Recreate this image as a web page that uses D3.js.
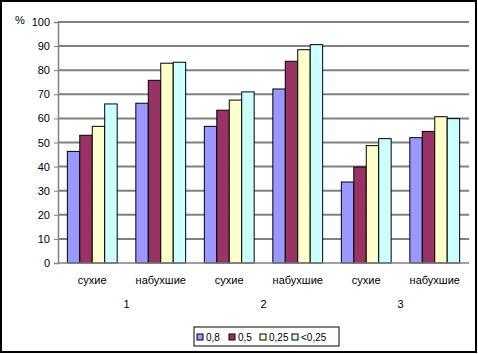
<!DOCTYPE html>
<html>
<head>
<meta charset="utf-8">
<script src="https://cdn.jsdelivr.net/npm/d3@7"></script>
<style>
  body { margin: 0; background: #fff; }
  text { font-family: "Liberation Sans", Arial, sans-serif; font-size: 11px; fill: #000; }
</style>
</head>
<body>
<svg id="chart" width="478" height="354"></svg>
<script>
const categories = ["сухие", "набухшие", "сухие", "набухшие", "сухие", "набухшие"];
const groups = ["1", "2", "3"];
const seriesNames = ["0,8", "0,5", "0,25", "<0,25"];
const colors = ["#9999ff", "#993366", "#ffffcc", "#ccffff"];

// values per series, one per category
const s08 = [46.3, 66.3, 56.7, 72.2, 33.6, 52.0];
const s05 = [53.0, 75.8, 63.4, 83.7, 39.8, 54.6];
const s025 = [56.7, 82.9, 67.6, 88.5, 48.7, 60.7];
const sLess = [66.0, 83.3, 71.0, 90.6, 51.6, 59.9];
const series = [s08, s05, s025, sLess];

const yTicks = d3.range(0, 101, 10);

const svg = d3.select("#chart");

const margin = { left: 58, right: 469, top: 22, bottom: 263 };

// one band per category, bars inside (gap width 150%)
const xCat = d3
  .scaleBand()
  .domain(d3.range(categories.length))
  .range([margin.left, margin.right]);

const xBar = d3
  .scaleBand()
  .domain(d3.range(series.length))
  .range([0, xCat.bandwidth() * 4 / 5.5]);

const y = d3.scaleLinear().domain([0, 100]).range([margin.bottom, margin.top]);

// outer frame
svg
  .append("rect")
  .attr("x", 1)
  .attr("y", 1)
  .attr("width", 475)
  .attr("height", 351)
  .attr("fill", "white")
  .attr("stroke", "black")
  .attr("stroke-width", 2);

// gridlines
svg
  .selectAll(".grid")
  .data(yTicks.filter((d) => d > 0))
  .enter()
  .append("line")
  .attr("class", "grid")
  .attr("x1", margin.left)
  .attr("x2", margin.right)
  .attr("y1", (d) => y(d))
  .attr("y2", (d) => y(d))
  .attr("stroke", "#808080")
  .attr("stroke-width", 2);

// y axis
const yAxis = svg
  .append("g")
  .attr("transform", `translate(${margin.left},0)`)
  .call(d3.axisLeft(y).tickValues(yTicks).tickSize(4).tickPadding(4));
yAxis.select(".domain").attr("stroke", "#808080").attr("stroke-width", 1.5);
yAxis.selectAll(".tick line").attr("stroke", "#808080");
yAxis.selectAll("text").style("font-size", "11px").attr("fill", "#000");

svg.append("text").attr("x", 15).attr("y", 24).text("%");

// bars
const offset = (xCat.bandwidth() - xBar.range()[1]) / 2;
series.forEach((vals, si) => {
  svg
    .append("g")
    .selectAll("rect")
    .data(vals)
    .enter()
    .append("rect")
    .attr("x", (d, i) => xCat(i) + offset + xBar(si))
    .attr("y", (d) => y(d))
    .attr("width", xBar.bandwidth())
    .attr("height", (d) => y(0) - y(d))
    .attr("fill", colors[si])
    .attr("stroke", "black")
    .attr("stroke-width", 1);
});

// baseline
svg
  .append("line")
  .attr("x1", margin.left)
  .attr("x2", margin.right)
  .attr("y1", y(0))
  .attr("y2", y(0))
  .attr("stroke", "#808080")
  .attr("stroke-width", 1.5);

// category labels
svg
  .selectAll(".cat")
  .data(categories)
  .enter()
  .append("text")
  .attr("class", "cat")
  .attr("x", (d, i) => xCat(i) + xCat.bandwidth() / 2)
  .attr("y", 284)
  .attr("text-anchor", "middle")
  .text((d) => d);

// group labels
svg
  .selectAll(".grp")
  .data(groups)
  .enter()
  .append("text")
  .attr("class", "grp")
  .attr("x", (d, i) => xCat(i * 2 + 1))
  .attr("y", 308)
  .attr("text-anchor", "middle")
  .text((d) => d);

// legend
const legend = svg.append("g").attr("transform", "translate(194,327)");
legend
  .append("rect")
  .attr("width", 145)
  .attr("height", 19)
  .attr("fill", "white")
  .attr("stroke", "black")
  .attr("stroke-width", 1);

const legendX = [3, 35, 66, 98];
seriesNames.forEach((name, i) => {
  const item = legend.append("g").attr("transform", `translate(${legendX[i]},0)`);
  item
    .append("rect")
    .attr("x", 0)
    .attr("y", 7)
    .attr("width", 6)
    .attr("height", 6)
    .attr("fill", colors[i])
    .attr("stroke", "black")
    .attr("stroke-width", 1);
  item
    .append("text")
    .attr("x", 9)
    .attr("y", 13.5)
    .style("font-size", "10px")
    .text(name);
});
</script>
</body>
</html>
